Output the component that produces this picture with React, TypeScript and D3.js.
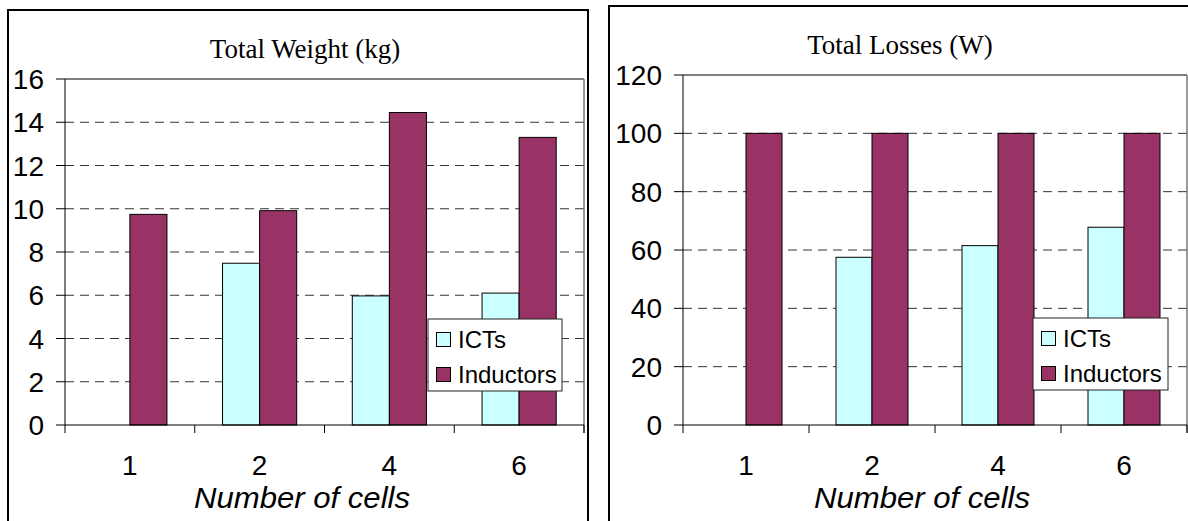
import React from "react";
import * as d3 from "d3";

const categories = ["1", "2", "4", "6"];
const weightICTs: (number | null)[] = [null, 7.48, 5.97, 6.1];
const weightInductors = [9.74, 9.91, 14.45, 13.3];
const lossICTs: (number | null)[] = [null, 57.5, 61.5, 67.8];
const lossInductors = [100, 100, 100, 100];
const weightTicks = [0, 2, 4, 6, 8, 10, 12, 14, 16];
const lossTicks = [0, 20, 40, 60, 80, 100, 120];
const seriesNames = ["ICTs", "Inductors"];
const seriesColors = ["#CCFFFF", "#993366"];

type PanelProps = {
  title: string;
  ict: (number | null)[];
  ind: number[];
  ticks: number[];
  box: { x: number; y: number; w: number; h: number };
  plot: { x0: number; x1: number; yTop: number; yBot: number };
  titleX: number;
  titleY: number;
  axisTitleX: number;
  legend: { x: number; y: number; w: number; h: number };
  yLabelRight: number;
};

const SANS = "'Liberation Sans', Arial, sans-serif";
const SERIF = "'Liberation Serif', 'Times New Roman', serif";

function Panel(p: PanelProps) {
  const { plot } = p;
  const maxV = p.ticks[p.ticks.length - 1];
  const y = d3.scaleLinear().domain([0, maxV]).range([plot.yBot, plot.yTop]);
  const x = d3.scaleBand<string>().domain(categories).range([plot.x0, plot.x1]).paddingInner(0).paddingOuter(0);
  const bw = x.bandwidth() / 3.5;
  const boundaries = d3.range(categories.length + 1).map((i) => plot.x0 + i * x.bandwidth());
  return (
    <g>
      <rect x={p.box.x} y={p.box.y} width={p.box.w} height={p.box.h} fill="#fff" stroke="#000" strokeWidth={2} />
      <text x={p.titleX} y={p.titleY} textAnchor="middle" fontFamily={SERIF} fontSize={27} fill="#000">
        {p.title}
      </text>
      {p.ticks.map((t, i) => (
        <g key={"g" + i}>
          {t !== 0 && (
            <line
              x1={plot.x0}
              x2={plot.x1}
              y1={y(t)}
              y2={y(t)}
              stroke={t === maxV ? "#000" : "#333"}
              strokeWidth={1}
              strokeDasharray={t === maxV ? undefined : "9,6"}
            />
          )}
          <line x1={plot.x0 - 9} x2={plot.x0} y1={y(t)} y2={y(t)} stroke="#000" strokeWidth={1} />
          <text
            x={p.yLabelRight}
            y={y(t)}
            dy="0.36em"
            textAnchor="end"
            fontFamily={SANS}
            fontSize={28}
            fill="#000"
          >
            {t}
          </text>
        </g>
      ))}
      {categories.map((c, i) => {
        const cx = (x(c) as number) + x.bandwidth() / 2;
        const v1 = p.ict[i];
        const v2 = p.ind[i];
        return (
          <g key={"b" + i}>
            {v1 !== null && (
              <rect x={cx - bw} y={y(v1)} width={bw} height={y(0) - y(v1)} fill={seriesColors[0]} stroke="#000" strokeWidth={1} />
            )}
            <rect x={cx} y={y(v2)} width={bw} height={y(0) - y(v2)} fill={seriesColors[1]} stroke="#000" strokeWidth={1} />
            <text x={cx} y={475} textAnchor="middle" fontFamily={SANS} fontSize={28} fill="#000">
              {c}
            </text>
          </g>
        );
      })}
      <line x1={plot.x0} x2={plot.x0} y1={plot.yTop} y2={plot.yBot} stroke="#000" strokeWidth={1} />
      <line x1={plot.x1} x2={plot.x1} y1={plot.yTop} y2={plot.yBot + 8} stroke="#777" strokeWidth={1.5} />
      <line x1={plot.x0} x2={plot.x1} y1={plot.yBot} y2={plot.yBot} stroke="#000" strokeWidth={1} />
      {boundaries.map((bx, i) => (
        <line key={"t" + i} x1={bx} x2={bx} y1={plot.yBot} y2={plot.yBot + 8} stroke="#000" strokeWidth={1} />
      ))}
      <text
        x={p.axisTitleX}
        y={508}
        textAnchor="middle"
        fontFamily={SANS}
        fontStyle="italic"
        fontSize={29}
        textLength={216}
        lengthAdjust="spacingAndGlyphs"
        fill="#000"
      >
        Number of cells
      </text>
      <rect x={p.legend.x} y={p.legend.y} width={p.legend.w} height={p.legend.h} fill="#fff" stroke="#222" strokeWidth={1} />
      {seriesNames.map((s, i) => (
        <g key={"l" + i}>
          <rect
            x={p.legend.x + 8.5}
            y={p.legend.y + 13.5 + i * 35}
            width={14}
            height={14}
            fill={seriesColors[i]}
            stroke="#000"
            strokeWidth={1}
          />
          <text x={p.legend.x + 30} y={p.legend.y + 29 + i * 35} fontFamily={SANS} fontSize={24} fill="#000">
            {s}
          </text>
        </g>
      ))}
    </g>
  );
}

export default function App() {
  return (
    <svg width={1188} height={521} style={{ position: "absolute", left: 0, top: 0, display: "block" }}>
      <rect x={0} y={0} width={1188} height={521} fill="#fff" />
      <Panel
        title="Total Weight (kg)"
        ict={weightICTs}
        ind={weightInductors}
        ticks={weightTicks}
        box={{ x: 8, y: 10, w: 580, h: 530 }}
        plot={{ x0: 65, x1: 584, yTop: 79, yBot: 425 }}
        titleX={305}
        titleY={58}
        axisTitleX={302}
        legend={{ x: 428, y: 319, w: 134, h: 72 }}
        yLabelRight={44}
      />
      <Panel
        title="Total Losses (W)"
        ict={lossICTs}
        ind={lossInductors}
        ticks={lossTicks}
        box={{ x: 609, y: 6, w: 600, h: 530 }}
        plot={{ x0: 683, x1: 1187, yTop: 75, yBot: 425 }}
        titleX={900}
        titleY={54}
        axisTitleX={922}
        legend={{ x: 1033, y: 318, w: 135, h: 72 }}
        yLabelRight={662}
      />
    </svg>
  );
}
